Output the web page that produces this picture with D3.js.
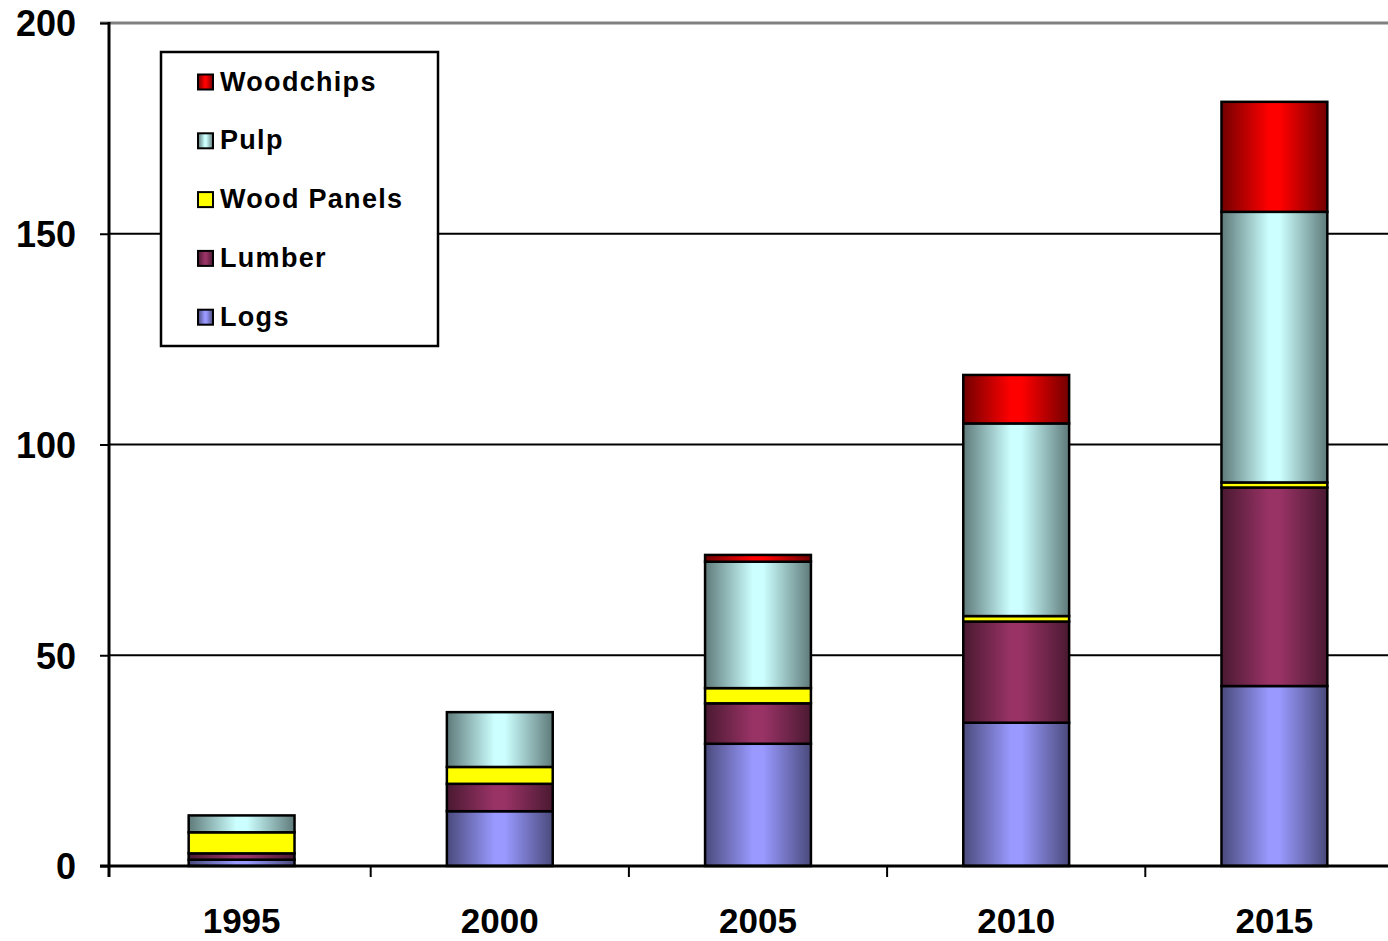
<!DOCTYPE html>
<meta charset="utf-8">
<style>

body {
  margin: 0;
  background: #fff;
}

svg {
  font-family: "Liberation Sans", Arial, sans-serif;
  font-weight: bold;
}

</style>
<svg width="1388" height="941"></svg>
<script src="https://d3js.org/d3.v7.min.js"></script>
<script>

var years = ["1995", "2000", "2005", "2010", "2015"];
var keys = ["Logs", "Lumber", "Wood Panels", "Pulp", "Woodchips"];

var logs       = [1.5, 13, 29, 34, 42.7];
var lumber     = [1.5, 6.5, 9.6, 24, 47.1];
var woodPanels = [5, 4, 3.6, 1.3, 1.2];
var pulp       = [4, 13, 30, 45.7, 64.2];
var woodchips  = [0, 0, 1.6, 11.5, 26.1];

var yTicks = [0, 50, 100, 150, 200];

var light = ["#9999ff", "#993366", "#ffff00", "#ccffff", "#ff0000"];
var dark  = ["#4a4a7c", "#4a1931", "#ffff00", "#5f7a7a", "#730000"];

var rows = years.map(function(y, i) {
  return {year: y, "Logs": logs[i], "Lumber": lumber[i], "Wood Panels": woodPanels[i], "Pulp": pulp[i], "Woodchips": woodchips[i]};
});

var svg = d3.select("svg");

var x = d3.scaleBand().domain(years).range([112.5, 1403.5]).paddingInner(0.59).paddingOuter(0.295);
var y = d3.scaleLinear().domain([0, 200]).range([866, 23]);

var defs = svg.append("defs");
keys.forEach(function(k, i) {
  var g = defs.append("linearGradient").attr("id", "g" + i).attr("x1", 0).attr("x2", 1).attr("y1", 0).attr("y2", 0);
  g.append("stop").attr("offset", 0).attr("stop-color", dark[i]);
  g.append("stop").attr("offset", 0.45).attr("stop-color", light[i]);
  g.append("stop").attr("offset", 0.55).attr("stop-color", light[i]);
  g.append("stop").attr("offset", 1).attr("stop-color", dark[i]);
});

// top border and gridlines
svg.append("line")
    .attr("x1", 100).attr("x2", 1388)
    .attr("y1", y(200)).attr("y2", y(200))
    .attr("stroke", "#808080").attr("stroke-width", 3);

svg.append("g").selectAll("line")
  .data([50, 100, 150])
  .join("line")
    .attr("x1", 109).attr("x2", 1388)
    .attr("y1", function(d) { return y(d); })
    .attr("y2", function(d) { return y(d); })
    .attr("stroke", "#000").attr("stroke-width", 2);

// y axis
var yAxis = svg.append("g")
    .attr("transform", "translate(109,0)")
    .call(d3.axisLeft(y).tickValues(yTicks).tickSize(9).tickPadding(24));
yAxis.select(".domain").remove();
yAxis.selectAll("line").attr("stroke", "#000").attr("stroke-width", 2);
yAxis.selectAll("text")
    .attr("fill", "#000")
    .attr("font-size", 36)
    .attr("font-family", "Liberation Sans, Arial, sans-serif")
    .attr("font-weight", "bold")
    .attr("dy", "0.36em");

// bars
var series = d3.stack().keys(keys)(rows);

svg.append("g").selectAll("g")
  .data(series)
  .join("g")
    .attr("fill", function(d, i) { return "url(#g" + i + ")"; })
  .selectAll("rect")
  .data(function(d) { return d; })
  .join("rect")
    .attr("x", function(d) { return x(d.data.year); })
    .attr("y", function(d) { return y(d[1]); })
    .attr("width", x.bandwidth())
    .attr("height", function(d) { return y(d[0]) - y(d[1]); })
    .attr("stroke", "#000")
    .attr("stroke-width", 2.5)
    .attr("display", function(d) { return d[1] - d[0] > 0 ? null : "none"; });

// x axis baseline, boundary ticks, labels
svg.append("line")
    .attr("x1", 100).attr("x2", 1388)
    .attr("y1", y(0)).attr("y2", y(0))
    .attr("stroke", "#000").attr("stroke-width", 3);

svg.append("line")
    .attr("x1", 109).attr("x2", 109)
    .attr("y1", y(200) - 1).attr("y2", y(0) + 11)
    .attr("stroke", "#000").attr("stroke-width", 3);

svg.append("g").selectAll("line")
  .data(years.slice(1))
  .join("line")
    .attr("x1", function(d) { return x(d) - x.step() * x.paddingInner() / 2; })
    .attr("x2", function(d) { return x(d) - x.step() * x.paddingInner() / 2; })
    .attr("y1", y(0)).attr("y2", y(0) + 11)
    .attr("stroke", "#000").attr("stroke-width", 2);

var xAxis = svg.append("g")
    .attr("transform", "translate(0," + y(0) + ")")
    .call(d3.axisBottom(x).tickSize(0).tickPadding(42));
xAxis.select(".domain").remove();
xAxis.selectAll("text")
    .attr("fill", "#000")
    .attr("font-size", 35)
    .attr("font-family", "Liberation Sans, Arial, sans-serif")
    .attr("font-weight", "bold");

// legend
var legend = svg.append("g");
legend.append("rect")
    .attr("x", 161).attr("y", 52)
    .attr("width", 277).attr("height", 294)
    .attr("fill", "#fff").attr("stroke", "#000").attr("stroke-width", 2.5);

var item = legend.selectAll("g")
  .data(keys.slice().reverse())
  .join("g")
    .attr("transform", function(d, i) { return "translate(198," + (82 + i * 58.8) + ")"; });

item.append("rect")
    .attr("x", 0).attr("y", -7.5)
    .attr("width", 15).attr("height", 15)
    .attr("fill", function(d) { return "url(#g" + keys.indexOf(d) + ")"; })
    .attr("stroke", "#000").attr("stroke-width", 2);

item.append("text")
    .attr("x", 22).attr("y", 8.5)
    .attr("font-size", 27)
    .attr("letter-spacing", 1.3)
    .text(function(d) { return d; });

</script>
